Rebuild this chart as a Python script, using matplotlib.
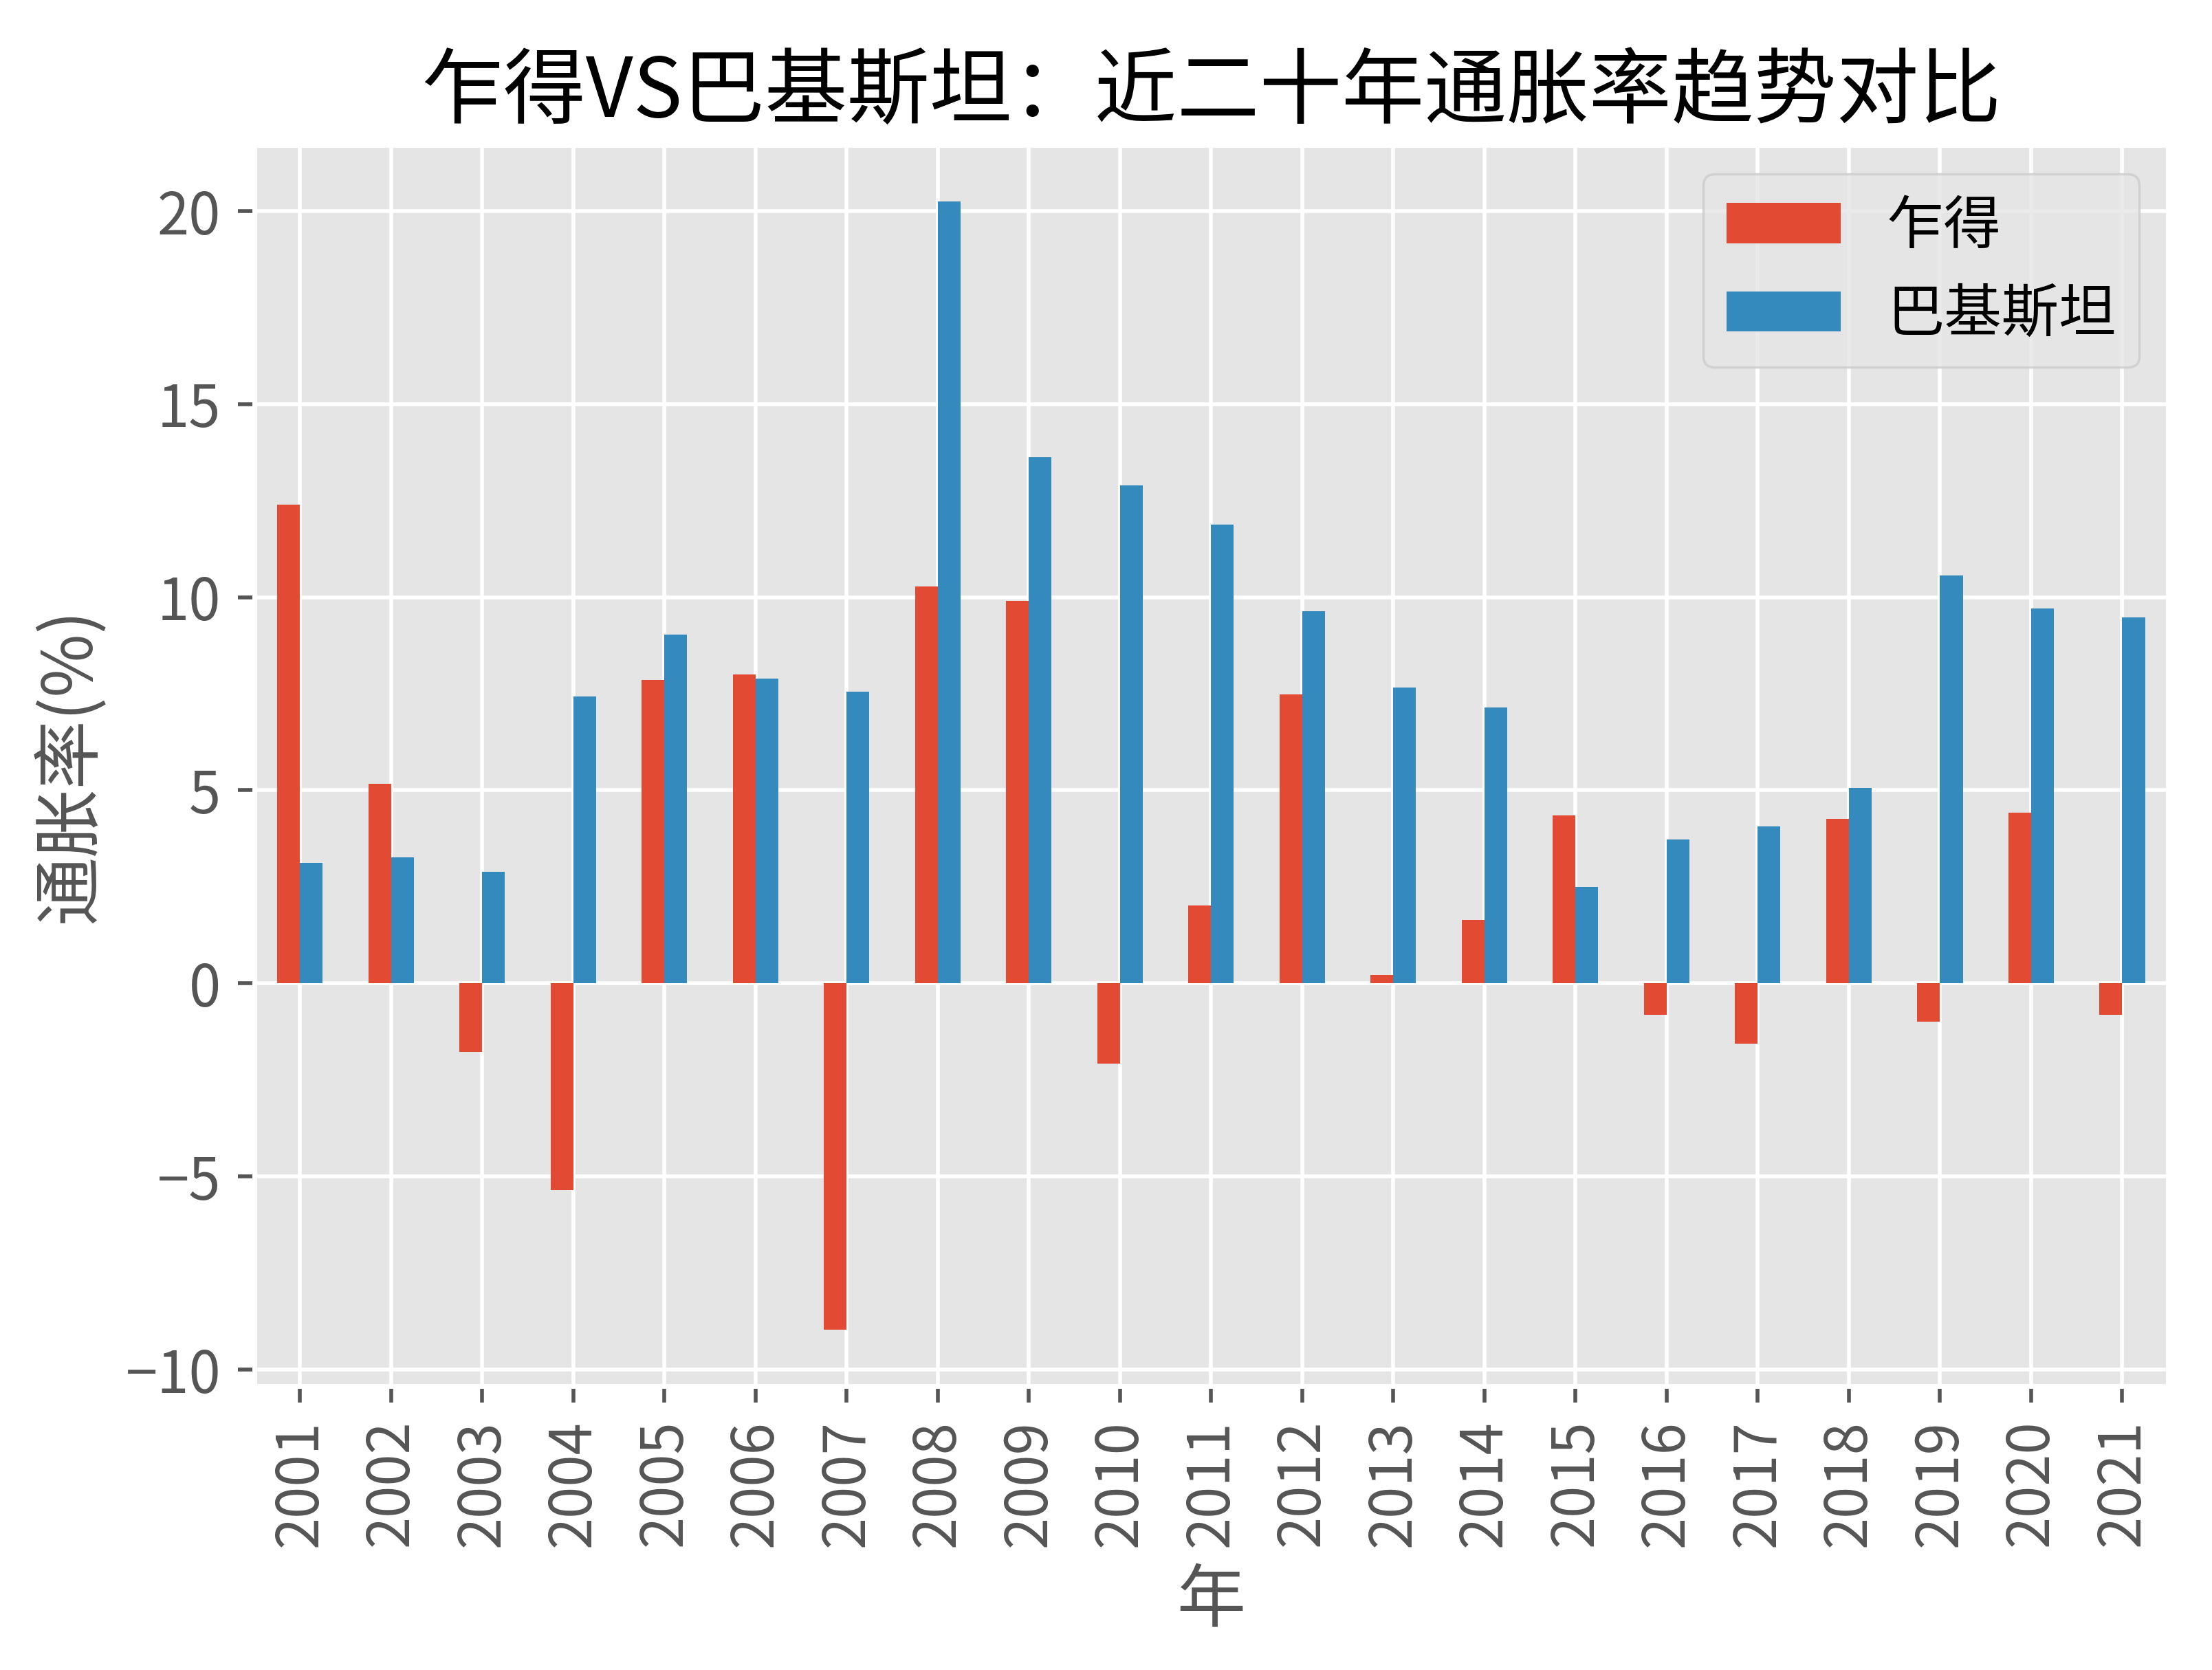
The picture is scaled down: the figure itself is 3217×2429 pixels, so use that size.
import matplotlib
matplotlib.use("Agg")
import matplotlib.pyplot as plt
import numpy as np

# style first, fonts after (style resets font settings)
plt.style.use("ggplot")
plt.rcParams['font.family'] = ['Noto Sans CJK SC', 'DejaVu Sans']
plt.rcParams['font.size'] = 12
plt.rcParams['axes.unicode_minus'] = True

years = [str(y) for y in range(2001, 2022)]
chad = [12.39, 5.16, -1.77, -5.36, 7.85, 7.99, -8.97, 10.27, 9.91, -2.08, 2.02,
        7.48, 0.22, 1.65, 4.34, -0.82, -1.57, 4.26, -1.00, 4.42, -0.82]
pakistan = [3.12, 3.26, 2.89, 7.42, 9.03, 7.89, 7.56, 20.24, 13.62, 12.90, 11.88,
            9.64, 7.66, 7.15, 2.49, 3.73, 4.06, 5.06, 10.56, 9.70, 9.48]

fig, ax = plt.subplots(figsize=(6.434, 4.858), dpi=500)
plt.subplots_adjust(left=0.115, right=0.98, top=0.913, bottom=0.17)

x = np.arange(len(years))
w = 0.25
ax.bar(x - w / 2, chad, w, label='乍得', color='#E24A33')
ax.bar(x + w / 2, pakistan, w, label='巴基斯坦', color='#348ABD')

ax.set_xticks(x)
ax.set_xticklabels(years, rotation=90)
ax.set_xlim(-0.5, len(years) - 0.5)

ax.set_title('乍得VS巴基斯坦：近二十年通胀率趋势对比')
ax.set_xlabel('年')
ax.set_ylabel('通胀率(%)')
ax.legend()

plt.savefig('out.png', dpi=500)
